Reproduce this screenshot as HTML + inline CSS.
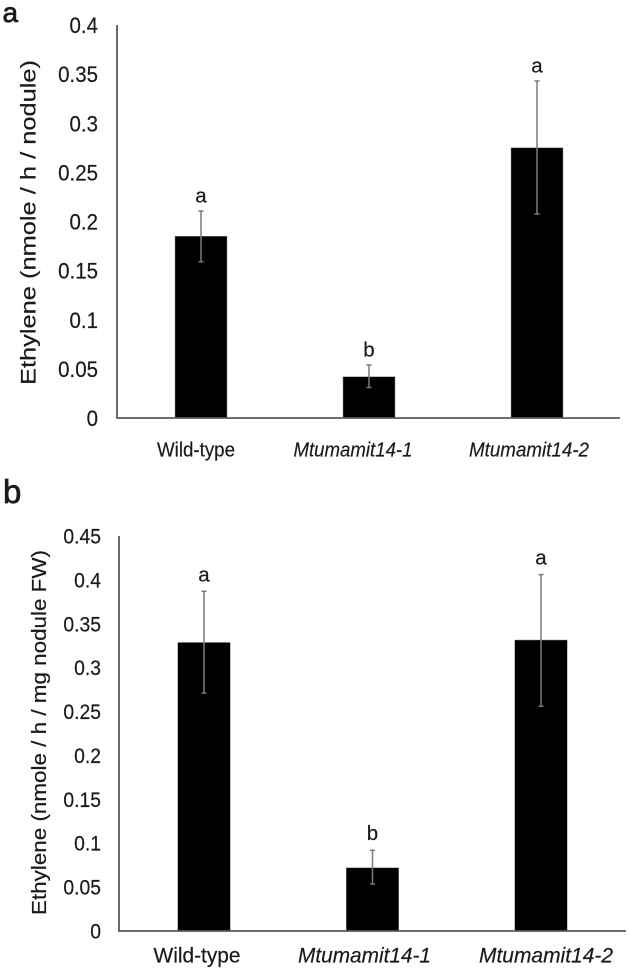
<!DOCTYPE html>
<html>
<head>
<meta charset="utf-8">
<title>Ethylene production charts</title>
<style>
html,body{margin:0;padding:0;background:#fff;width:629px;height:973px;overflow:hidden}
svg{display:block}
text{font-family:"Liberation Sans",sans-serif;fill:#1a1a1a;stroke:#1a1a1a;stroke-width:0.2px}
</style>
</head>
<body>
<svg id="figure" xmlns="http://www.w3.org/2000/svg" width="629" height="973" viewBox="0 0 629 973">
  <rect width="629" height="973" fill="#fff"/>
  <text x="2.5" y="22" font-size="28" style="stroke-width:0.7px">a</text>
  <text x="3" y="503" font-size="33" style="stroke-width:0.7px">b</text>
</svg>
<script>
const categories = ['Wild-type', 'Mtumamit14-1', 'Mtumamit14-2'];
const italicFlags = [false, true, true];

const ticksA = ['0', '0.05', '0.1', '0.15', '0.2', '0.25', '0.3', '0.35', '0.4'];
const valuesA = [0.185, 0.042, 0.275];
const errorUpperA = [0.2107, 0.054, 0.343];
const errorLowerA = [0.159, 0.031, 0.2076];
const lettersA = ['a', 'b', 'a'];
const titleA = 'Ethylene (nmole / h / nodule)';

const ticksB = ['0', '0.05', '0.1', '0.15', '0.2', '0.25', '0.3', '0.35', '0.4', '0.45'];
const valuesB = [0.3287, 0.072, 0.3315];
const errorUpperB = [0.387, 0.092, 0.406];
const errorLowerB = [0.271, 0.0535, 0.256];
const lettersB = ['a', 'b', 'a'];
const titleB = 'Ethylene (nmole / h / mg nodule FW)';

const svg = document.getElementById('figure');
const NS = 'http://www.w3.org/2000/svg';

function make(tag, attrs, parent) {
  const el = document.createElementNS(NS, tag);
  for (const k in attrs) el.setAttribute(k, attrs[k]);
  parent.appendChild(el);
  return el;
}

function drawChart(c) {
  const g = make('g', {}, svg);
  
  
  const maxTick = Math.max.apply(null, c.ticks.map(Number));
  const y = v => c.y0 - (v / maxTick) * (c.y0 - c.yTop);
  const x = i => c.xFirst + i * c.xStep;

  c.values.forEach((v, i) => {
    const bar = make('rect', {x: x(i) - c.barW / 2, y: y(v), width: c.barW, height: c.y0 - y(v), fill: '#000', stroke: '#8a8a8a', 'stroke-width': 0.5}, g);
    
    
  });

  c.values.forEach((v, i) => {
    const hi = y(c.upper[i]), lo = y(c.lower[i]), cx = x(i);
    const err = make('path', {d: 'M' + (cx - 2.5) + ' ' + hi + 'H' + (cx + 2.5) + 'M' + cx + ' ' + hi + 'V' + lo + 'M' + (cx - 2.5) + ' ' + lo + 'H' + (cx + 2.5), fill: 'none', stroke: '#7a7a7a', 'stroke-width': 1.5}, g);
    
    

    const letter = make('text', {x: cx, y: hi - c.letterGap, 'font-size': c.letterSize, 'text-anchor': 'middle'}, g);
    letter.textContent = c.letters[i];
    
    

    const label = make('text', {x: cx + c.labelDx[i], y: c.labelY, 'font-size': c.labelSize, 'text-anchor': 'middle', 'font-style': italicFlags[i] ? 'italic' : 'normal', textLength: c.labelW[i], lengthAdjust: 'spacingAndGlyphs'}, g);
    label.textContent = categories[i];
    
    
  });

  const axes = make('path', {d: 'M' + c.xAxis + ' ' + c.yTop + 'V' + c.y0 + 'H' + c.xEnd, fill: 'none', stroke: '#5a5a5a', 'stroke-width': 1.8}, g);
  
  

  c.ticks.forEach(t => {
    const yy = y(Number(t)) + c.tickDy;
    const tick = make('text', {transform: 'translate(' + c.tickX + ' ' + yy + ') scale(' + c.tickScale + ' 1)', 'font-size': c.tickSize, 'text-anchor': 'end'}, g);
    tick.textContent = t;
    
    
  });

  const title = make('text', {transform: 'translate(' + c.titleX + ' ' + c.titleY + ') rotate(-90)', 'font-size': c.titleSize, textLength: c.titleLen, lengthAdjust: 'spacingAndGlyphs'}, g);
  title.textContent = c.title;
  
  
}

drawChart({
  name: 'chart-a', ticks: ticksA, values: valuesA, upper: errorUpperA, lower: errorLowerA, letters: lettersA, title: titleA,
  y0: 418, yTop: 25, xAxis: 117, xEnd: 620, xFirst: 201, xStep: 168, barW: 52,
  tickX: 98, tickDy: 8, tickSize: 22, tickScale: 0.93,
  titleX: 35.5, titleY: 385, titleSize: 21.5, titleLen: 325,
  labelY: 456.5, labelSize: 20.5, labelW: [78, 119, 120], labelDx: [-5, -16, -8],
  letterGap: 8.5, letterSize: 20.5
});

drawChart({
  name: 'chart-b', ticks: ticksB, values: valuesB, upper: errorUpperB, lower: errorLowerB, letters: lettersB, title: titleB,
  y0: 931, yTop: 536, xAxis: 119, xEnd: 626, xFirst: 204, xStep: 168.5, barW: 52.5,
  tickX: 101, tickDy: 7.5, tickSize: 21, tickScale: 0.92,
  titleX: 46, titleY: 915, titleSize: 20.5, titleLen: 365,
  labelY: 962.5, labelSize: 21, labelW: [87, 133, 134], labelDx: [-7, -8, 5],
  letterGap: 10, letterSize: 20.5
});
</script>
</body>
</html>
